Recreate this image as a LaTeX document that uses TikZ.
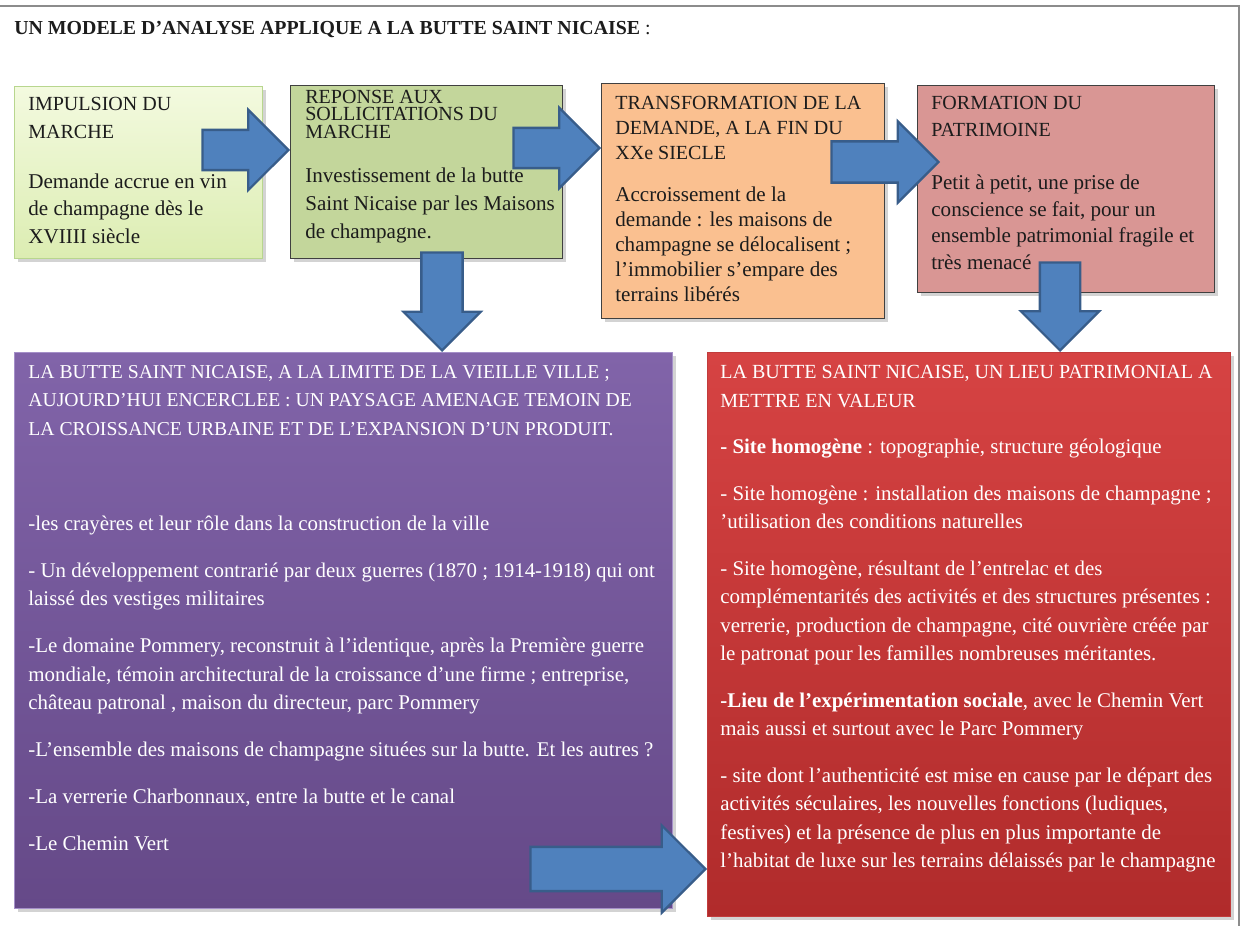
\documentclass[tikz,border=0pt]{standalone}
\usepackage{fontspec}
\setmainfont{Liberation Serif}
\usetikzlibrary{shapes.arrows,shadows,calc}

\definecolor{arrowblue}{HTML}{4F81BD}
\definecolor{arrowedge}{HTML}{385D8A}
\definecolor{greentop}{HTML}{F3FADF}
\definecolor{greenbot}{HTML}{DCEDB2}
\definecolor{greenedge}{HTML}{B8D68E}
\definecolor{olive}{HTML}{C3D69B}
\definecolor{peach}{HTML}{FAC090}
\definecolor{rose}{HTML}{D99694}
\definecolor{purpletop}{HTML}{8164A9}
\definecolor{purplebot}{HTML}{654988}
\definecolor{purpleedge}{HTML}{A48FC8}
\definecolor{redtop}{HTML}{D64343}
\definecolor{redbot}{HTML}{B02B2B}
\definecolor{inkdark}{HTML}{1C1C1C}
\definecolor{framegray}{HTML}{8C8C8C}

% header lines are set a bit smaller than the body text
\newcommand{\hdr}[1]{{\fontsize{11.4}{14}\selectfont #1}}
\newcommand{\hdrp}[1]{{\fontsize{11.2}{14}\selectfont #1}}

\tikzset{
  box/.style={anchor=north west, inner sep=0, line width=0.8pt,
    drop shadow={shadow xshift=2pt, shadow yshift=-2pt, opacity=0.35}},
  boxtext/.style={anchor=north west, align=left, inner sep=0, text=inkdark},
  whitetext/.style={anchor=north west, align=left, inner sep=0, text=white,
    font=\fontsize{11.9}{16.2}\selectfont},
  fatarrow/.style={single arrow, anchor=tip, fill=arrowblue, draw=arrowedge,
    line width=1.3pt, inner xsep=0, inner ysep=0.38cm,
    single arrow head extend=0.4cm}
}

\begin{document}
\begin{tikzpicture}[x=0.02cm, y=-0.02cm]
\useasboundingbox (0,0) rectangle (1249,926);

% page frame
\draw[framegray, line width=1.2pt] (0,6) -- (1239,6) -- (1239,926);

\node[anchor=west, inner sep=0, text=inkdark, font=\fontsize{11.3}{13}\selectfont] (title) at (14,30)
  {\textbf{UN MODELE D’ANALYSE APPLIQUE A LA BUTTE SAINT NICAISE} :};

% top row
\node[box, draw=greenedge, top color=greentop, bottom color=greenbot,
  minimum width=4.96cm, minimum height=3.44cm] (impulsion) at (14,86) {};
\node[box, draw=black!75, fill=olive,
  minimum width=5.44cm, minimum height=3.46cm] (reponse) at (290,85) {};
\node[box, draw=black!75, fill=peach,
  minimum width=5.66cm, minimum height=4.70cm] (transformation) at (601,83) {};
\node[box, draw=black!75, fill=rose,
  minimum width=5.94cm, minimum height=4.14cm] (formation) at (917,85) {};

% bottom row
\node[box, draw=purpleedge, top color=purpletop, bottom color=purplebot,
  minimum width=13.16cm, minimum height=11.12cm] (paysage) at (14,352) {};
\node[box, draw=redtop!90!black, top color=redtop, bottom color=redbot,
  minimum width=10.46cm, minimum height=11.28cm] (lieu) at (707,352) {};

% texts
\node[boxtext, font=\fontsize{12}{15.6}\selectfont] (impulsion-txt)
  at ([shift={(14,11)}]impulsion.north west)
  {\hdr{IMPULSION DU}\\ \hdr{MARCHE}\\[13pt]
   Demande accrue en vin\\ de champagne dès le\\ XVIIII siècle};
\node[boxtext, font=\fontsize{12}{15.9}\selectfont] (reponse-txt)
  at ([shift={(15,5)}]reponse.north west)
  {\hdr{REPONSE AUX}\\[-6.1pt] \hdr{SOLLICITATIONS DU}\\[-6.1pt] \hdr{MARCHE}\\[9.2pt]
   Investissement de la butte\\ Saint Nicaise par les Maisons\\ de champagne.};
\node[boxtext, font=\fontsize{12}{14.2}\selectfont] (transformation-txt)
  at ([shift={(14,13)}]transformation.north west)
  {\hdr{TRANSFORMATION DE LA}\\ \hdr{DEMANDE, A LA FIN DU}\\ \hdr{XXe SIECLE}\\[9.6pt]
   Accroissement de la\\ demande : les maisons de\\ champagne se délocalisent ;\\
   l’immobilier s’empare des\\ terrains libérés};
\node[boxtext, font=\fontsize{12}{15.3}\selectfont] (formation-txt)
  at ([shift={(14,11)}]formation.north west)
  {\hdr{FORMATION DU}\\ \hdr{PATRIMOINE}\\[14.7pt]
   Petit à petit, une prise de\\ conscience se fait, pour un\\
   ensemble patrimonial fragile et\\ très menacé};

\node[whitetext] (paysage-txt) at ([shift={(14,13)}]paysage.north west)
  {\hdrp{LA BUTTE SAINT NICAISE, A LA LIMITE DE LA VIEILLE VILLE ;}\\
   \hdrp{AUJOURD’HUI ENCERCLEE : UN PAYSAGE AMENAGE TEMOIN DE}\\
   \hdrp{LA CROISSANCE URBAINE ET DE L’EXPANSION D’UN PRODUIT.}\\[37.9pt]
   -les crayères et leur rôle dans la  construction de la ville\\[10.5pt]
   - Un développement contrarié par deux guerres (1870 ; 1914-1918) qui ont\\
   laissé des vestiges militaires\\[10.5pt]
   -Le domaine Pommery, reconstruit à l’identique, après la Première guerre\\
   mondiale, témoin architectural de la croissance d’une firme ; entreprise,\\
   château patronal , maison du directeur, parc Pommery\\[10.5pt]
   -L’ensemble des maisons de champagne situées sur la butte. Et les autres ?\\[10.5pt]
   -La verrerie Charbonnaux, entre la butte et le canal\\[10.5pt]
   -Le Chemin Vert};
\node[whitetext] (lieu-txt) at ([shift={(13,13)}]lieu.north west)
  {\hdr{LA BUTTE SAINT NICAISE, UN LIEU PATRIMONIAL A}\\
   \hdr{METTRE EN VALEUR}\\[10.3pt]
   \textbf{- Site homogène} : topographie, structure géologique\\[10.3pt]
   - Site homogène : installation des maisons de champagne ;\\
   ’utilisation des conditions naturelles\\[10.3pt]
   - Site homogène, résultant de l’entrelac et des\\
   complémentarités des activités et des structures présentes :\\
   verrerie, production de champagne, cité ouvrière créée par\\
   le patronat pour les familles nombreuses méritantes.\\[10.3pt]
   \textbf{-Lieu de l’expérimentation sociale}, avec le Chemin Vert\\
   mais aussi et surtout avec le Parc Pommery\\[10.3pt]
   - site dont l’authenticité est  mise en cause par le départ des\\
   activités séculaires, les nouvelles fonctions (ludiques,\\
   festives) et la présence de plus en plus importante de\\
   l’habitat de luxe sur les terrains délaissés par le champagne};

% block arrows
\node[fatarrow, minimum height=1.72cm] (impulsion-reponse)
  at (reponse.west |- 0,150) {};
\node[fatarrow, minimum height=1.72cm] (reponse-transformation)
  at (transformation.west |- 0,148) {};
\node[fatarrow, minimum height=2.14cm, inner ysep=0.39cm] (transformation-formation)
  at ($(formation.west |- 0,162)+(23,0)$) {};
\node[fatarrow, rotate=-90, minimum height=1.96cm, inner ysep=0.39cm,
  single arrow head extend=0.36cm] (reponse-paysage)
  at (442,0 |- paysage.north) {};
\node[fatarrow, rotate=-90, minimum height=1.76cm,
  single arrow head extend=0.38cm] (formation-lieu)
  at (1060,0 |- lieu.north) {};
\node[fatarrow, minimum height=3.50cm, inner ysep=0.42cm,
  single arrow head extend=0.43cm] (paysage-lieu)
  at (lieu.west |- 0,869) {};
\end{tikzpicture}
\end{document}
